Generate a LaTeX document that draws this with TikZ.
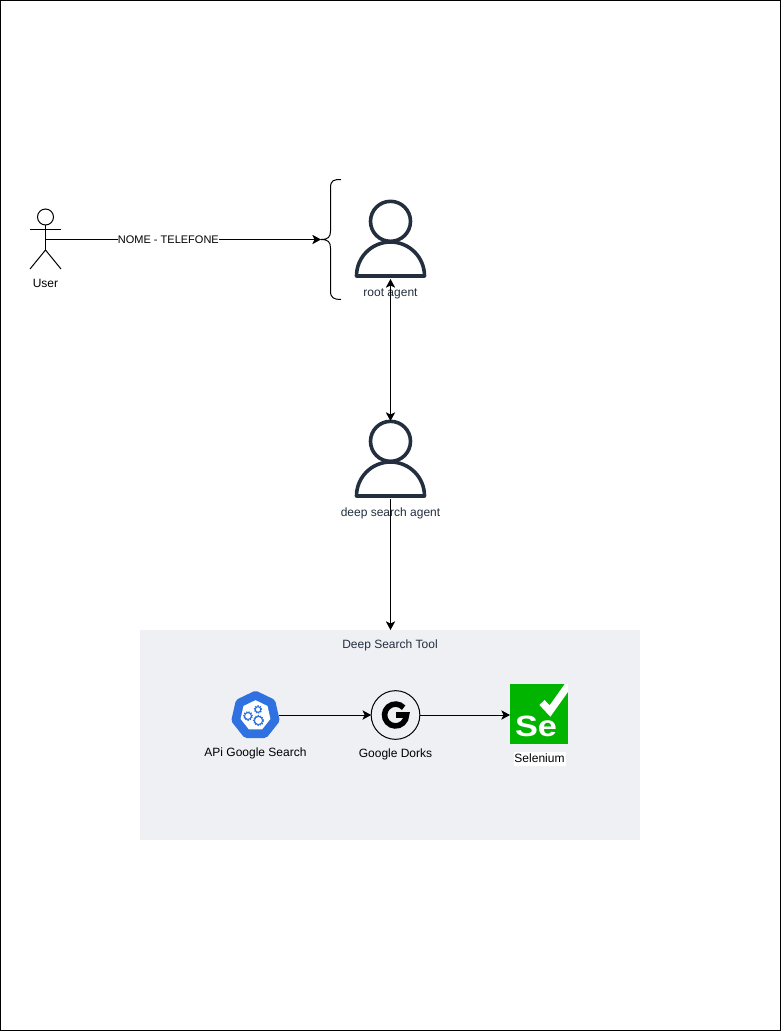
\documentclass[tikz,border=0pt]{standalone}
\usepackage{fontspec}
\setmainfont{Liberation Sans}
\usetikzlibrary{shapes.geometric, arrows.meta}
\definecolor{awsdark}{HTML}{232F3E}
\definecolor{toolgray}{HTML}{EEF0F4}
\definecolor{k8sblue}{HTML}{2F71E0}
\definecolor{seleniumgreen}{HTML}{00B400}
\tikzstyle{agent} = [rectangle, minimum width=52.5pt, minimum height=58.5pt, inner sep=0pt, outer sep=0pt]
\tikzstyle{textlabel} = [font=\fontsize{9}{11}\selectfont, inner sep=0pt]
\tikzstyle{awslabel} = [textlabel, text=awsdark]
\tikzstyle{arrow} = [-{Stealth[length=6.5pt, width=7pt, inset=1.6pt]}, line width=0.75pt]
\tikzstyle{twoway} = [{Stealth[length=6.5pt, width=7pt, inset=1.6pt]}-{Stealth[length=6.5pt, width=7pt, inset=1.6pt]}, line width=0.75pt]
\tikzstyle{gearpart} = [draw=k8sblue, line width=0.8pt]
\tikzset{
  person/.pic={
    \draw [awsdark, line width=2.7pt] (0pt,14pt) circle (15pt);
    \draw [awsdark, line width=2.7pt, line join=round] (-25.5pt,-27pt) arc [start angle=180, end angle=0, radius=25.5pt] -- cycle;
  },
  gear/.pic={
    \draw [gearpart] (0,0) circle (#1);
    \draw [k8sblue, line width=1pt, dash pattern=on 0.9pt off 0.9pt] (0,0) circle (#1+0.6pt);
  }
}

\begin{document}
\begin{tikzpicture}[x=0.75pt, y=-0.75pt]

    \useasboundingbox (0,0) rectangle (781,1031);
    \draw [line width=0.75pt] (0.5,0.5) rectangle (780.5,1030.5);

    % nodes
    \fill [toolgray] (140,630) rectangle (640,840);
    \node (tool_title) [awslabel] at (390,645) {Deep Search Tool};
    \coordinate (tool_box) at (390.5,630);

    \coordinate (user) at (45.5,239.5);
    \node (user_label) [textlabel] at (45.5,283.5) {User};
    \coordinate (brace_tip) at (321,239.5);

    \node (root_agent) [agent] at (390.5,240) {};
    \node (root_label) [awslabel] at (390.5,293.5) {root agent};
    \node (deep_agent) [agent] at (390.5,460) {};
    \node (deep_label) [awslabel] at (390.5,513) {deep search agent};

    \node (api_icon) [regular polygon, regular polygon sides=7, minimum size=37.5pt, inner sep=0pt, outer sep=0pt, fill=k8sblue, rounded corners=1.5pt] at (255.5,715.5) {};
    \node (api_label) [textlabel] at (255.5,753) {APi Google Search};
    \node (google_icon) [circle, draw, line width=0.75pt, minimum size=36.5pt, inner sep=0pt, outer sep=0pt] at (395.5,715) {};
    \node (google_label) [textlabel] at (395.5,754) {Google Dorks};
    \node (selenium_icon) [rectangle, fill=seleniumgreen, minimum width=43.5pt, minimum height=45pt, inner sep=0pt, outer sep=0pt] at (539,714) {};
    \node (selenium_label) [textlabel, fill=white, minimum width=39pt, minimum height=11pt] at (539.5,759) {\raisebox{1pt}{Selenium}};

    % user
    \draw [line width=0.75pt] (45.5,217) circle (8);
    \draw [line width=0.75pt] (45.5,225) -- (45.5,250);
    \draw [line width=0.75pt] (30,229) -- (61,229);
    \draw [line width=0.75pt] (30,269) -- (45.5,250) -- (61,269);

    % brace
    \draw [line width=0.75pt] (341,179.5) .. controls (334,179.5) and (330.5,180) .. (330.5,188) -- (330.5,231) .. controls (330.5,237) and (328,239.5) .. (321,239.5) .. controls (328,239.5) and (330.5,242) .. (330.5,248) -- (330.5,291) .. controls (330.5,298) and (334,299.5) .. (341,299.5);

    % persons
    \pic at (root_agent) {person};
    \pic at (deep_agent) {person};

    % api icon
    \node (api_inner) [regular polygon, regular polygon sides=7, minimum size=23pt, inner sep=0pt, fill=white] at (api_icon.center) {};
    \pic at (248,716) {gear=2.6pt};
    \pic at (258,709.5) {gear=2.1pt};
    \pic at (258.5,720.5) {gear=3.1pt};

    % google g
    \draw [line width=4.2pt] ([shift={(42:8.2pt)}]google_icon.center) arc [start angle=42, end angle=360, radius=8.2pt] -- ([xshift=0.5pt]google_icon.center);

    % selenium logo
    \begin{scope}
        \clip (selenium_icon.south west) rectangle (selenium_icon.north east);
        \draw [white, line width=5.4pt] (542,702.5) -- (550,711) -- (572,680);
    \end{scope}
    \node (selenium_se) [text=white, inner sep=0pt, font=\fontsize{22}{22}\selectfont\bfseries, xscale=1.17] at (536,726) {Se};

    % edges
    \draw [arrow] (user) -- node[textlabel, fill=white, font=\fontsize{8.25}{10}\selectfont, pos=0.446] {NOME - TELEFONE} (brace_tip);
    \draw [twoway] (root_agent.south) -- (deep_agent.north);
    \draw [arrow] (deep_agent.south) -- (tool_box);
    \draw [arrow] (google_icon.west -| api_icon.east) -- (google_icon.west);
    \draw [arrow] (google_icon.east) -- (google_icon.east -| selenium_icon.west);

\end{tikzpicture}
\end{document}
